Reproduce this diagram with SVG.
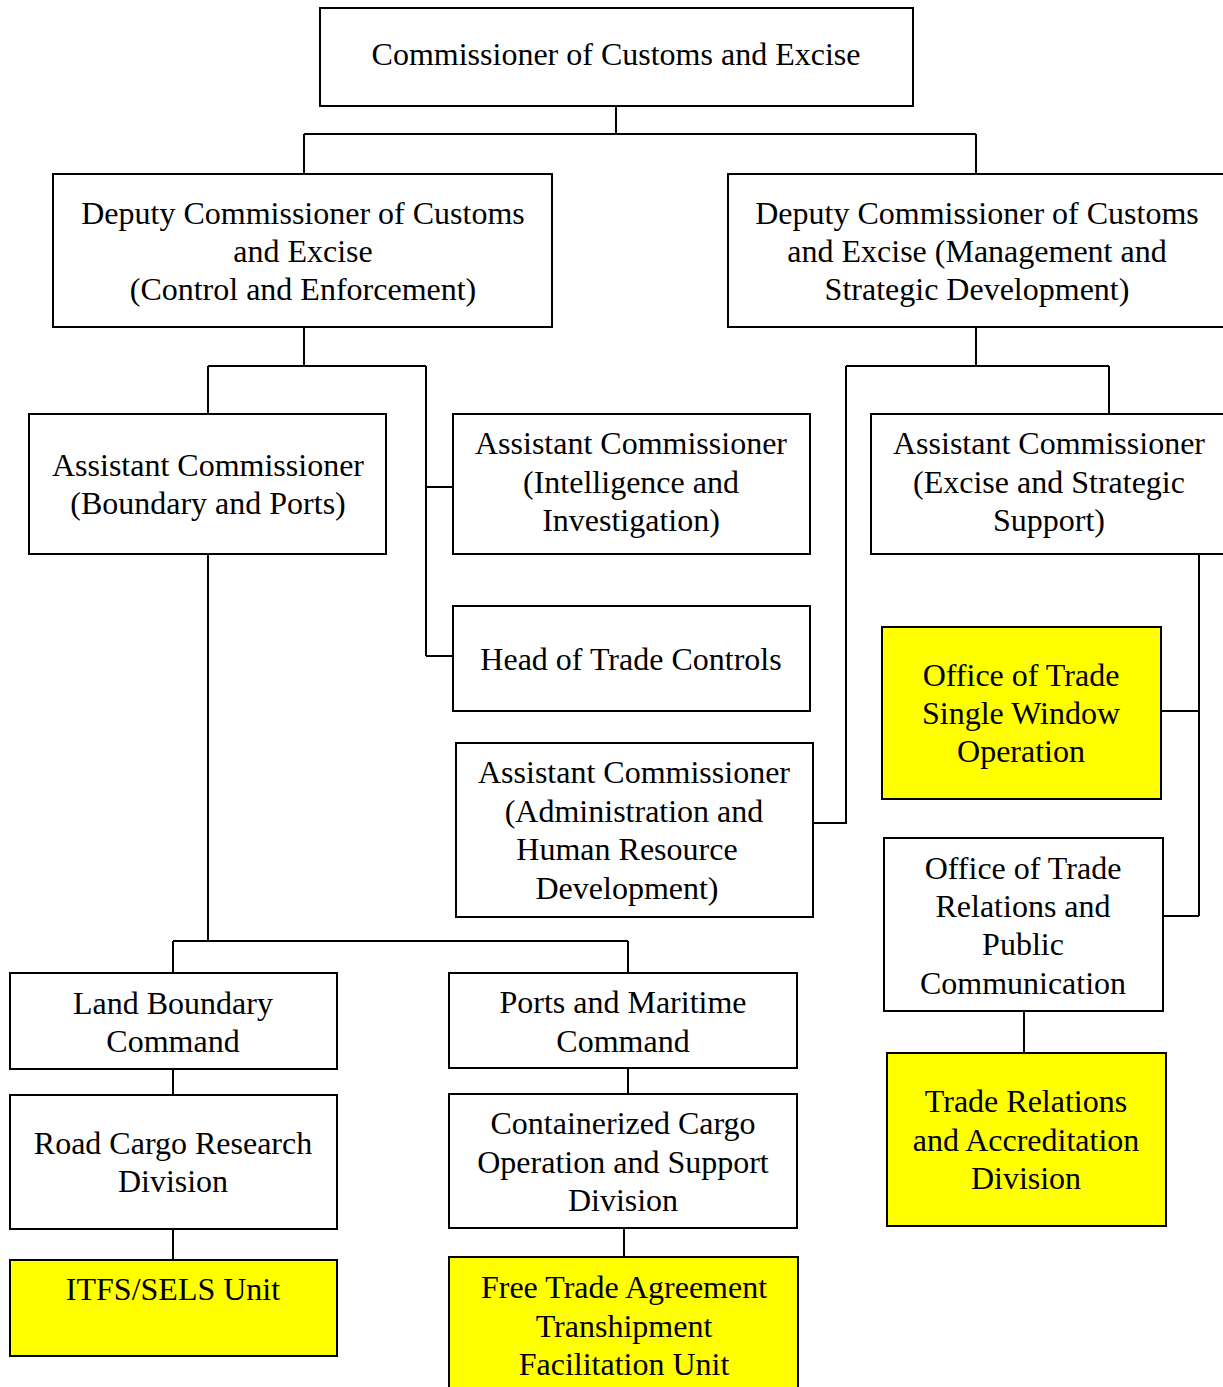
<svg xmlns="http://www.w3.org/2000/svg" width="1223" height="1387" viewBox="0 0 1223 1387">
<style>
.b{fill:#fff;stroke:#000;stroke-width:2}
.y{fill:#ffff00;stroke:#000;stroke-width:2}
.t{font-family:"Liberation Serif","Times New Roman",serif;font-size:32px;fill:#000;text-anchor:middle}
.c{fill:none;stroke:#000;stroke-width:2}
</style>
<rect width="1223" height="1387" fill="#fff"/>
<g id="connectors">
<path class="c" d="M616,106V134M304,134H976M304,134V174M976,134V174"/>
<path class="c" d="M304,327V366M208,366H426M208,366V414M426,366V656M426,487H453M426,656H453"/>
<path class="c" d="M976,327V366M846,366H1109M1109,366V414M846,366V823H813"/>
<path class="c" d="M1199,554V916M1161,711H1199M1163,916H1199"/>
<path class="c" d="M1024,1011V1053"/>
<path class="c" d="M208,554V941M173,941H628M173,941V973M628,941V973"/>
<path class="c" d="M173,1069V1095M173,1229V1260M628,1068V1094M624,1228V1257"/>
</g>
<g id="commissioner">
<rect class="b" x="320" y="8" width="593" height="98"/>
<text class="t" x="616" y="65">Commissioner of Customs and Excise</text>
</g>
<g id="deputy-control">
<rect class="b" x="53" y="174" width="499" height="153"/>
<text class="t" x="303" y="224">Deputy Commissioner of Customs</text>
<text class="t" x="303" y="262">and Excise</text>
<text class="t" x="303" y="300">(Control and Enforcement)</text>
</g>
<g id="deputy-management">
<rect class="b" x="728" y="174" width="500" height="153"/>
<text class="t" x="977" y="224">Deputy Commissioner of Customs</text>
<text class="t" x="977" y="262">and Excise (Management and</text>
<text class="t" x="977" y="300">Strategic Development)</text>
</g>
<g id="ac-boundary">
<rect class="b" x="29" y="414" width="357" height="140"/>
<text class="t" x="208" y="476">Assistant Commissioner</text>
<text class="t" x="208" y="514">(Boundary and Ports)</text>
</g>
<g id="ac-intelligence">
<rect class="b" x="453" y="414" width="357" height="140"/>
<text class="t" x="631" y="454">Assistant Commissioner</text>
<text class="t" x="631" y="493">(Intelligence and</text>
<text class="t" x="631" y="531">Investigation)</text>
</g>
<g id="head-trade-controls">
<rect class="b" x="453" y="606" width="357" height="105"/>
<text class="t" x="631" y="670">Head of Trade Controls</text>
</g>
<g id="ac-admin">
<rect class="b" x="456" y="743" width="357" height="174"/>
<text class="t" x="634" y="783">Assistant Commissioner</text>
<text class="t" x="634" y="822">(Administration and</text>
<text class="t" x="627" y="860">Human Resource</text>
<text class="t" x="627" y="899">Development)</text>
</g>
<g id="ac-excise">
<rect class="b" x="871" y="414" width="357" height="140"/>
<text class="t" x="1049" y="454">Assistant Commissioner</text>
<text class="t" x="1049" y="493">(Excise and Strategic</text>
<text class="t" x="1049" y="531">Support)</text>
</g>
<g id="single-window">
<rect class="y" x="882" y="627" width="279" height="172"/>
<text class="t" x="1021" y="686">Office of Trade</text>
<text class="t" x="1021" y="724">Single Window</text>
<text class="t" x="1021" y="762">Operation</text>
</g>
<g id="trade-relations-office">
<rect class="b" x="884" y="838" width="279" height="173"/>
<text class="t" x="1023" y="879">Office of Trade</text>
<text class="t" x="1023" y="917">Relations and</text>
<text class="t" x="1023" y="955">Public</text>
<text class="t" x="1023" y="994">Communication</text>
</g>
<g id="trade-relations-accreditation">
<rect class="y" x="887" y="1053" width="279" height="173"/>
<text class="t" x="1026" y="1112">Trade Relations</text>
<text class="t" x="1026" y="1151">and Accreditation</text>
<text class="t" x="1026" y="1189">Division</text>
</g>
<g id="land-boundary">
<rect class="b" x="10" y="973" width="327" height="96"/>
<text class="t" x="173" y="1014">Land Boundary</text>
<text class="t" x="173" y="1052">Command</text>
</g>
<g id="ports-maritime">
<rect class="b" x="449" y="973" width="348" height="95"/>
<text class="t" x="623" y="1013">Ports and Maritime</text>
<text class="t" x="623" y="1052">Command</text>
</g>
<g id="road-cargo">
<rect class="b" x="10" y="1095" width="327" height="134"/>
<text class="t" x="173" y="1154">Road Cargo Research</text>
<text class="t" x="173" y="1192">Division</text>
</g>
<g id="containerized">
<rect class="b" x="449" y="1094" width="348" height="134"/>
<text class="t" x="623" y="1134">Containerized Cargo</text>
<text class="t" x="623" y="1173">Operation and Support</text>
<text class="t" x="623" y="1211">Division</text>
</g>
<g id="itfs-sels">
<rect class="y" x="10" y="1260" width="327" height="96"/>
<text class="t" x="173" y="1300">ITFS/SELS Unit</text>
</g>
<g id="fta-transhipment">
<rect class="y" x="449" y="1257" width="349" height="140"/>
<text class="t" x="624" y="1298">Free Trade Agreement</text>
<text class="t" x="624" y="1337">Transhipment</text>
<text class="t" x="624" y="1375">Facilitation Unit</text>
</g>
</svg>
